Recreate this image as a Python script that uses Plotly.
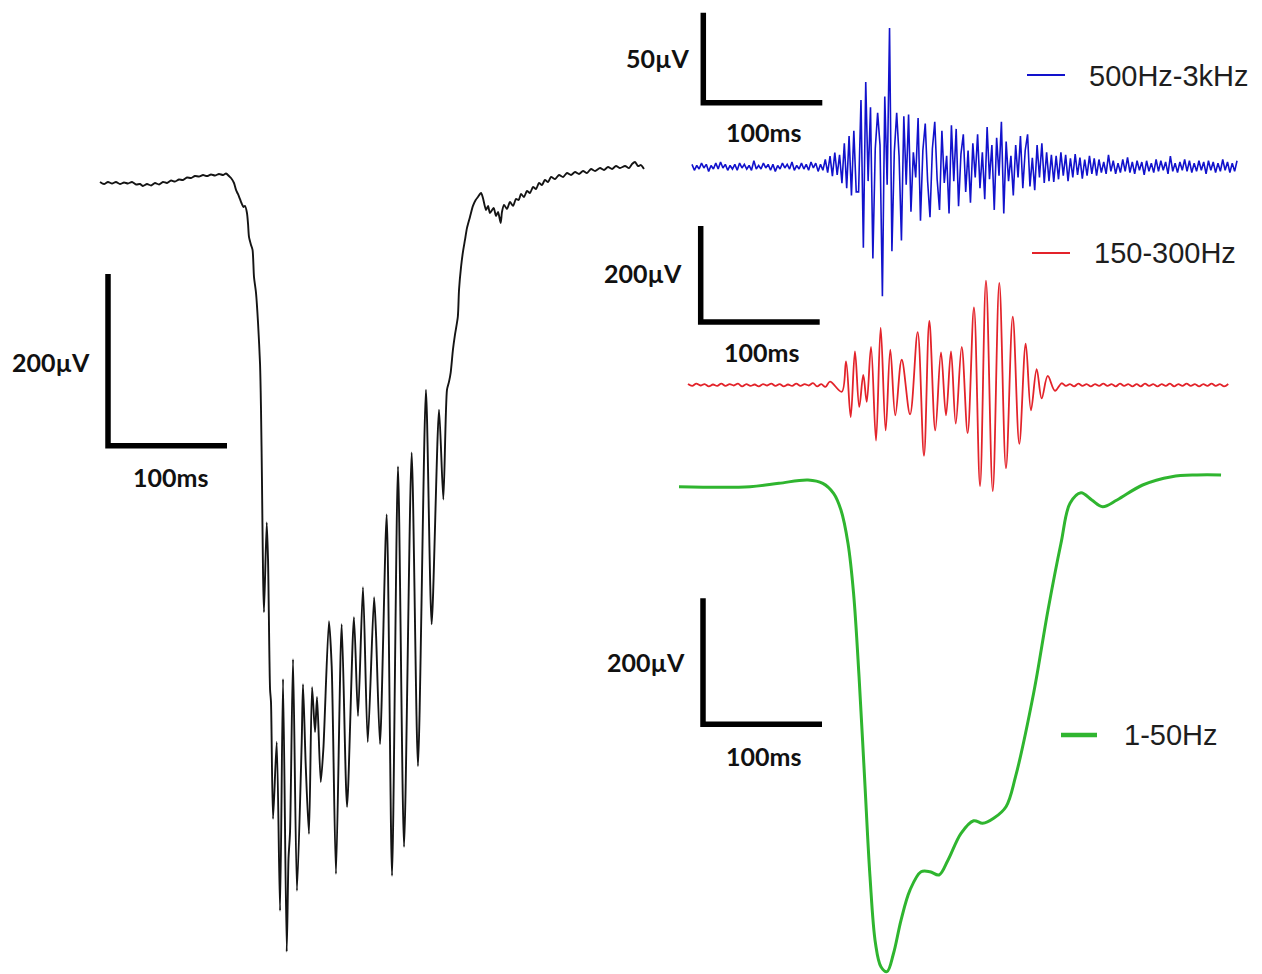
import plotly.graph_objects as go

W, H = 1262, 974

# ------------------------------------------------------------------ data
# Wide-band trace (left), time in ms, voltage in µV
black_t_ms = [0, 3.4, 6.7, 10.1, 13.4, 16.8, 20.2, 23.5, 26.9, 30.3, 33.6, 36.1, 39.5, 42.9, 46.2, 49.6,
              52.9, 56.3, 59.7, 63.0, 66.4, 69.7, 73.1, 76.5, 79.8, 83.2, 86.6, 89.9, 93.3, 96.6, 100.0,
              103.4, 105.9, 108.4, 110.1, 112.6, 114.3, 115.9, 117.6, 118.9, 120.7, 121.8, 123.5, 124.4,
              125.2, 126.9, 128.2, 129.4, 131.1, 132.8, 134.5, 135.3, 136.1, 137.0, 137.8, 140.1, 141.2,
              142.9, 143.7, 145.4, 148.5, 151.3, 153.8, 156.9, 158.4, 159.7, 162.2, 165.5, 169.5, 170.6,
              172.9, 175.6, 178.2, 180.7, 182.4, 185.5, 187.7, 192.4, 194.7, 198.3, 203.1, 207.6, 213.4,
              216.8, 221.0, 225.0, 230.3, 231.9, 235.3, 240.9, 245.4, 250.4, 255.5, 261.9, 267.2, 273.9,
              278.7, 284.9, 288.5, 291.6, 293.3, 294.7, 296.6, 298.3, 300.7, 301.7, 303.4, 305.0, 306.7,
              308.4, 310.9, 313.4, 315.7, 317.6, 320.2, 321.8, 324.4, 326.1, 327.7, 330.8, 332.8, 334.5,
              336.7, 337.8, 339.5, 342.0, 344.5, 347.1, 349.6, 351.8, 353.8, 356.3, 358.8, 361.3, 363.9,
              366.4, 368.9, 371.4, 373.9, 376.5, 379.0, 382.4, 385.7, 389.1, 392.4, 395.8, 399.2, 402.5,
              405.9, 409.2, 412.6, 416.0, 420.2, 423.5, 426.9, 430.3, 433.6, 437.0, 441.2, 444.5, 447.1,
              449.6, 452.1, 454.6, 457.1]
black_uv = [1.2, -1.2, 1.2, -0.6, 1.2, -1.2, 0.6, -0.6, 1.2, -1.7, -1.2, -3.5, -1.2, -2.9, 0, -1.7,
            1.2, 0, 2.9, 1.7, 4.1, 3.5, 6.4, 5.8, 8.1, 7.6, 9.3, 8.1, 9.9, 8.7, 10.5,
            9.3, 11.0, 8.1, 5.8, 0, -8.1, -12.8, -18.6, -23.3, -27.9, -26.7, -34.9, -47.7,
            -62.8, -72.1, -77.9, -109.3, -127.9, -162.8, -211.6, -264.0, -345.3, -453.5, -500.0, -395.3, -438.4,
            -589.5, -604.7, -740.7, -651.2, -847.7, -577.9, -895.3, -787.2, -755.8, -554.7, -824.4, -651.2, -583.7,
            -679.1, -758.1, -587.2, -639.5, -598.8, -697.7, -659.3, -510.5, -562.8, -804.7, -514.0, -726.7, -505.8,
            -620.9, -470.9, -651.2, -482.6, -523.3, -653.5, -386.0, -807.0, -330.2, -773.3, -314.0, -679.1, -240.7,
            -514.0, -264.0, -368.6, -240.7, -231.4, -220.9, -194.2, -176.7, -155.8, -124.4, -97.7, -80.2, -66.3,
            -52.3, -39.5, -26.7, -19.8, -16.3, -11.6, -17.4, -31.4, -26.7, -34.9, -29.1, -38.4, -33.7,
            -46.5, -33.7, -25.6, -30.2, -22.1, -26.7, -18.6, -19.8, -12.8, -16.3, -9.3, -11.6, -4.7,
            -7.0, 0, -2.3, 3.5, 1.2, 7.0, 4.7, 9.3, 7.0, 11.6, 9.3, 12.8, 10.5,
            14.0, 11.6, 16.3, 14.0, 17.4, 15.1, 18.6, 16.3, 19.8, 17.4, 19.8, 17.4, 22.1,
            24.4, 19.8, 20.9, 16.3]

# 500Hz-3kHz band, sampled every 2 ms (µV)
blue_dt_ms = 2.0
blue_uv = [1.3, -2, 0.7, -1.3, 2, -0.7, 1.3, -2.6, 0.7, -1.3, 2, -1.3, 2.6, -0.7, 1.3, -2, 0.7, -1.3, 1.3, -2,
           2, -0.7, 1.3, -1.3, 0.7, -2, 3.3, -1.3, 0.7, -1.3, 2, -0.7, 1.3, -2, 1.3, -2.6, 0.7, -1.3, 2, -0.7,
           1.3, -1.3, 2.6, -2, 0.7, -1.3, 2, -1.3, 1.3, -2, 2.6, -0.7, 2, -2.6, 1.3, -2,
           4, -3.3, 5.9, -5.2, 7.9, -4.6, 6.6, -9.2,
           13, -12, 17, -16, 20, -14,
           -14, 37, -45, 47, -8, 33, -51, 10, 30, 12, -72, 39, -10, 77, -47, 8, 30, 6, -41, 28,
           -10, 29, -25, 8, -6, 27, -30, 9, 24, -8, -28, 10, 25, -7, -24, 20, -9, 6, -26, 23, -8, 21,
           -22, 7, 18, -14, 9, -20, 13, -6, 18, -12, 8, -18, 22, -7, 12, -24, 16, -5, 25, -26,
           14, -8, 6, -16, 12, -6, 17, -12, 9, 18, -11, 5, -13, 12, -6, 13, -9, 8,
           -8, 6.6, -8.5, 6, -7, 8, -5, 6.6, -8, 4.6, -6, 7, -4.6, 5, -6.6, 4, -5, 6, -4, 4.6, -5,
           4, -3.3, 2.6, -4, 6.6, -2.6, 3.3, -4, 2, -3.3, 4, -2.6, 5.2, -3.3, 2.6, -4, 3.3, -2, 2.6, -4.6,
           3.3, -2.6, 2, -3.3, 4, -2.6, 3.3, -2, 2.6, -4, 5.9, -2.6, 2, -3.3, 2.6, -2, 4, -2.6, 3.3, -3.3,
           2, -2.6, 3.3, -2, 2.6, -4, 3.3, -2, 2.6, -3.3, 2, -2.6, 4, -2, 2.6, -3.3, 2, -2.6, 3.3]

# 150-300Hz band (µV): quiet stretch before, burst extrema, quiet stretch after
red_dt_ms = 3.5
red_pre_uv = [2, -2, 3, -1, 2, -3, 1, -2, 3, -2, 2, -1, 3, -3, 2, -2, 1, -3, 2, -1, 3, -2, 2, -3, 1,
              -2, 3, -2, 2, -1, 4, -3, 2, -4]
red_burst_t_ms = [119.3, 129.2, 132.8, 136.7, 140.3, 143.9, 147.3, 150.2, 153.8, 158.0, 161.9, 166.1,
                  170.0, 174.2, 179.6, 186.6, 193.0, 198.3, 202.8, 207.8, 212.6, 216.8, 221.0, 225.0,
                  230.0, 235.0, 240.3, 245.4, 250.4, 256.1, 261.6, 267.2, 272.9, 278.4, 283.8, 288.2,
                  293.0, 297.2, 302.3, 308.4, 314.0, 317.6]
red_burst_uv = [6.9, -14.1, 49.1, -66.7, 70.1, -45.7, 21.1, -35.2, 79.4, -115.8, 119.4, -94.7,
                73.7, -63.2, 52.6, -61.1, 110.1, -147.4, 133.3, -94.7, 68.0, -63.2, 70.1, -80.6,
                79.4, -100.4, 161.5, -210.5, 217.5, -221.1, 212.6, -173.3, 142.5, -122.7, 86.3, -52.6,
                33.1, -28.0, 18.9, -12.0, 3.6, -2.0]
red_post_start_ms = 321.0
red_post_uv = [2, -3, 3, -2, 2, -3, 2, -2, 3, -2, 2, -3, 3, -2, 2, -3, 2, -3, 3, -2, 2, -3, 2, -2, 3,
               -3, 2, -2, 3, -2, 2, -3, 2, -2, 3, -2, 2, -3, 2]

# 1-50Hz band (µV)
green_t_ms = [0, 59.7, 84.0, 108.4, 120.8, 129.9, 136.1, 142.0, 146.7, 151.3, 155.9, 160.5, 165.1,
              169.7, 174.8, 180.3, 186.6, 194.1, 203.4, 210.9, 218.5, 226.1, 237.0, 247.6, 255.2,
              264.4, 274.8, 282.8, 298.0, 310.1, 321.0, 328.6, 337.8, 346.9, 356.0, 368.1, 389.6,
              414.1, 435.3, 455.5]
green_uv = [0, 0, 5.4, 10.6, 5.4, -10.5, -37.0, -89.8, -169.2, -301.6, -460.3, -619.0, -724.8,
            -761.9, -769.8, -740.6, -687.8, -640.2, -611.1, -611.1, -616.3, -592.5, -550.2, -530.2, -534.3,
            -526.3, -507.9, -460.3, -327.9, -195.7, -89.8, -26.3, -9.5, -21.1, -31.7, -21.1, 2.7,
            15.9, 18.6, 18.6]

scale_ms = 100
scale_uv = {"black": 200, "blue": 50, "red": 200, "green": 200}
scale_uv_labels = {"black": "200µV", "blue": "50µV", "red": "200µV", "green": "200µV"}
time_label = "100ms"
legend_labels = {"blue": "500Hz-3kHz", "red": "150-300Hz", "green": "1-50Hz"}

# ------------------------------------------------------------------ layout geometry
# per panel: x pixel of t=0, px per ms, y pixel of 0 µV, px per µV
panels = {
    "black": dict(ax=1, x0=100, sx=1.19, y0=183.0, sy=0.8585, color="#141414", width=1.9,
                  shape="spline", smoothing=0.7),
    "blue": dict(ax=2, x0=692, sx=1.19, y0=166.7, sy=1.80, color="#1212cc", width=1.6,
                 shape="linear", smoothing=1),
    "red": dict(ax=3, x0=688, sx=1.19, y0=385.0, sy=0.48, color="#e3232a", width=1.8,
                shape="spline", smoothing=1),
    "green": dict(ax=4, x0=679, sx=1.19, y0=486.7, sy=0.63, color="#2fb52f", width=3.0,
                  shape="spline", smoothing=1),
}

# scale bar corner (pixel) for each panel
bar_corner_px = {"black": (108, 445.7), "blue": (703.3, 102.7), "red": (700.7, 322), "green": (703, 724.3)}

blue_t_ms = [blue_dt_ms * i for i in range(len(blue_uv))]
red_t_ms = ([red_dt_ms * i for i in range(len(red_pre_uv))] + red_burst_t_ms +
            [red_post_start_ms + red_dt_ms * i for i in range(len(red_post_uv))])
red_uv = red_pre_uv + red_burst_uv + red_post_uv

series = {
    "black": (black_t_ms, black_uv),
    "blue": (blue_t_ms, blue_uv),
    "red": (red_t_ms, red_uv),
    "green": (green_t_ms, green_uv),
}

fig = go.Figure()
layout = dict(width=W, height=H, margin=dict(l=0, r=0, t=0, b=0),
              paper_bgcolor="white", plot_bgcolor="rgba(0,0,0,0)", showlegend=False)
shapes = []
annotations = []

for name, p in panels.items():
    k = p["ax"]
    xa = "xaxis" if k == 1 else f"xaxis{k}"
    ya = "yaxis" if k == 1 else f"yaxis{k}"
    xr = "x" if k == 1 else f"x{k}"
    yr = "y" if k == 1 else f"y{k}"
    xrange_ = [-p["x0"] / p["sx"], (W - p["x0"]) / p["sx"]]
    yrange_ = [(p["y0"] - H) / p["sy"], p["y0"] / p["sy"]]
    xdict = dict(domain=[0, 1], range=xrange_, visible=False, showgrid=False, zeroline=False, anchor=yr)
    ydict = dict(domain=[0, 1], range=yrange_, visible=False, showgrid=False, zeroline=False, anchor=xr)
    if k > 1:
        xdict["overlaying"] = "x"
        ydict["overlaying"] = "y"
    layout[xa] = xdict
    layout[ya] = ydict

    t, v = series[name]
    line = dict(color=p["color"], width=p["width"], shape=p["shape"])
    if p["shape"] == "spline":
        line["smoothing"] = p["smoothing"]
    fig.add_trace(go.Scatter(x=t, y=v, mode="lines", xaxis=xr, yaxis=yr, hoverinfo="skip", line=line))

    # scale bar in data units of this panel
    cx, cy = bar_corner_px[name]
    tc = (cx - p["x0"]) / p["sx"]
    vc = (p["y0"] - cy) / p["sy"]
    path = f"M {tc},{vc + scale_uv[name]} L {tc},{vc} L {tc + scale_ms},{vc}"
    shapes.append(dict(type="path", path=path, xref=xr, yref=yr,
                       line=dict(color="black", width=5.5)))

# scale-bar labels (pixel positions)
bold_font = dict(family="Lato, Carlito, sans-serif", size=25, color="#111111")
label_pos = {
    "black": ((51, 362), (170, 477)),
    "blue": ((658, 58), (763, 132)),
    "red": ((643, 273), (761, 352)),
    "green": ((646, 662), (763, 756)),
}
for name, ((ux, uy), (tx, ty)) in label_pos.items():
    annotations.append(dict(text=f"<b>{scale_uv_labels[name]}</b>", x=ux / W, y=1 - uy / H, xref="paper",
                            yref="paper", showarrow=False, xanchor="center", yanchor="middle", font=bold_font))
    annotations.append(dict(text=f"<b>{time_label}</b>", x=tx / W, y=1 - ty / H, xref="paper",
                            yref="paper", showarrow=False, xanchor="center", yanchor="middle", font=bold_font))

# legend entries
legend_font = dict(family="Liberation Sans, Arial, sans-serif", size=29, color="#1e1e1e")
legend_geo = {
    "blue": (1027, 1065, 75, 1.8, 1087, 76),
    "red": (1032, 1070, 253, 1.8, 1092, 253),
    "green": (1061, 1097, 735, 4.5, 1122, 735),
}
for name, (lx0, lx1, ly, lw, txx, tyy) in legend_geo.items():
    shapes.append(dict(type="line", xref="paper", yref="paper", x0=lx0 / W, x1=lx1 / W,
                       y0=1 - ly / H, y1=1 - ly / H, line=dict(color=panels[name]["color"], width=lw)))
    annotations.append(dict(text=legend_labels[name], x=txx / W, y=1 - tyy / H, xref="paper", yref="paper",
                            showarrow=False, xanchor="left", yanchor="middle", font=legend_font))

layout["shapes"] = shapes
layout["annotations"] = annotations
fig.update_layout(**layout)

fig.write_html("out.html", config={"displayModeBar": False},
               post_script="document.body.style.margin='0';document.body.style.overflow='hidden';")
